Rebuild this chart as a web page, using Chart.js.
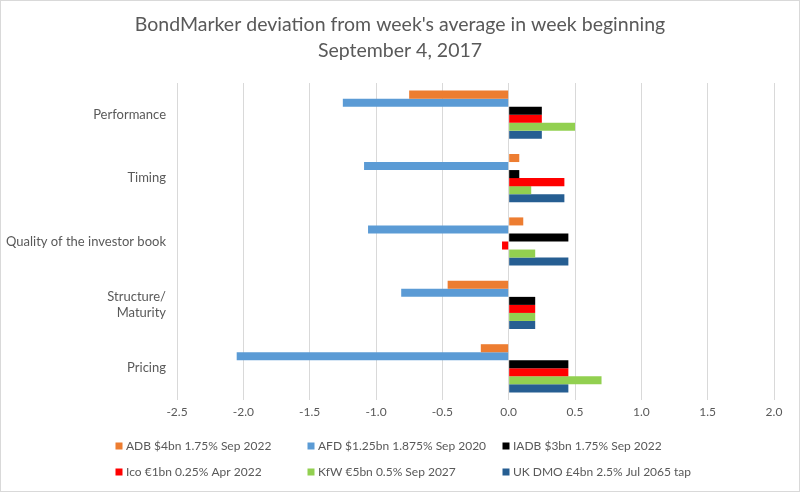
<!DOCTYPE html>
<html>
<head>
<meta charset="utf-8">
<script src="https://cdn.jsdelivr.net/npm/chart.js@4.4.1/dist/chart.umd.min.js"></script>
<style>
  html, body { margin: 0; padding: 0; background: #fff; }
  canvas { display: block; }
</style>
</head>
<body>
<canvas id="chart" width="800" height="492"></canvas>
<script>
/* ===== Data ===== */
const categories = ['Performance', 'Timing', 'Quality of the investor book', ['Structure/', 'Maturity'], 'Pricing'];
const seriesNames = [
    'ADB $4bn 1.75% Sep 2022',
    'AFD $1.25bn 1.875% Sep 2020',
    'IADB $3bn 1.75% Sep 2022',
    'Ico €1bn 0.25% Apr 2022',
    'KfW €5bn 0.5% Sep 2027',
    'UK DMO £4bn 2.5% Jul 2065 tap'
];
const titleLines = ['BondMarker deviation from week\'s average in week beginning', 'September 4, 2017'];
const adb   = [-0.75,  0.08,  0.11, -0.46, -0.21];
const afd   = [-1.25, -1.09, -1.06, -0.81, -2.05];
const iadb  = [ 0.25,  0.08,  0.45,  0.20,  0.45];
const ico   = [ 0.25,  0.42, -0.05,  0.20,  0.45];
const kfw   = [ 0.50,  0.17,  0.20,  0.20,  0.70];
const ukdmo = [ 0.25,  0.42,  0.45,  0.20,  0.45];
const xTicks = [-2.5, -2.0, -1.5, -1.0, -0.5, 0.0, 0.5, 1.0, 1.5, 2.0];

const COLORS = ['#ED7D31', '#5B9BD5', '#000000', '#FF0000', '#92D050', '#265E92'];
const TEXT = '#595959';
const FONT = "Lato, 'Open Sans', sans-serif";

Chart.defaults.font.family = FONT;
Chart.defaults.color = TEXT;

/* ===== Title + grid legend (3 columns, like Excel) ===== */
const excelFrame = {
    id: 'excelFrame',
    afterDraw(chart) {
        const ctx = chart.ctx;
        ctx.save();

        // title, centred on the whole canvas
        ctx.font = '19.5px ' + FONT;
        ctx.fillStyle = TEXT;
        ctx.textAlign = 'center';
        ctx.textBaseline = 'middle';
        titleLines.forEach((t, i) => ctx.fillText(t, chart.width / 2, 25 + i * 26));

        // legend
        const cols = [119, 311, 506];
        const rows = [446, 472];
        ctx.font = '12px ' + FONT;
        ctx.textAlign = 'left';
        chart.data.datasets.forEach((ds, i) => {
            const x = cols[i % 3];
            const y = rows[Math.floor(i / 3)];
            ctx.fillStyle = ds.backgroundColor;
            ctx.fillRect(x - 3.5, y - 3.5, 7, 7);
            ctx.fillStyle = TEXT;
            ctx.fillText(ds.label, x + 7, y + 0.5);
        });

        // outer chart border
        ctx.strokeStyle = '#d9d9d9';
        ctx.lineWidth = 1;
        ctx.strokeRect(0.5, 0.5, chart.width - 1, chart.height - 1);
        ctx.restore();
    }
};

const values = [adb, afd, iadb, ico, kfw, ukdmo];

new Chart(document.getElementById('chart'), {
    type: 'bar',
    data: {
        labels: categories,
        datasets: values.map((v, i) => ({
            label: seriesNames[i],
            data: v,
            backgroundColor: COLORS[i],
            borderWidth: 0,
            categoryPercentage: 0.76,
            barPercentage: 1.0
        }))
    },
    options: {
        indexAxis: 'y',
        responsive: false,
        animation: false,
        devicePixelRatio: 1,
        layout: { padding: { left: 0, right: 26, top: 83, bottom: 70 } },
        plugins: {
            legend: { display: false },
            tooltip: { enabled: false },
            title: { display: false }
        },
        scales: {
            x: {
                min: -2.5,
                max: 2.0,
                afterBuildTicks: s => { s.ticks = xTicks.map(v => ({ value: v })); },
                afterFit: s => { s.height = 22; },
                ticks: { callback: v => Number(v).toFixed(1), font: { size: 12 }, color: TEXT, padding: 5 },
                grid: { color: '#d9d9d9', drawTicks: false },
                border: { display: false }
            },
            y: {
                afterFit: s => { s.width = 177; },
                ticks: { font: { size: 13 }, color: TEXT, padding: 11 },
                grid: { display: false, drawTicks: false },
                border: { display: false }
            }
        }
    },
    plugins: [excelFrame]
});
</script>
</body>
</html>
